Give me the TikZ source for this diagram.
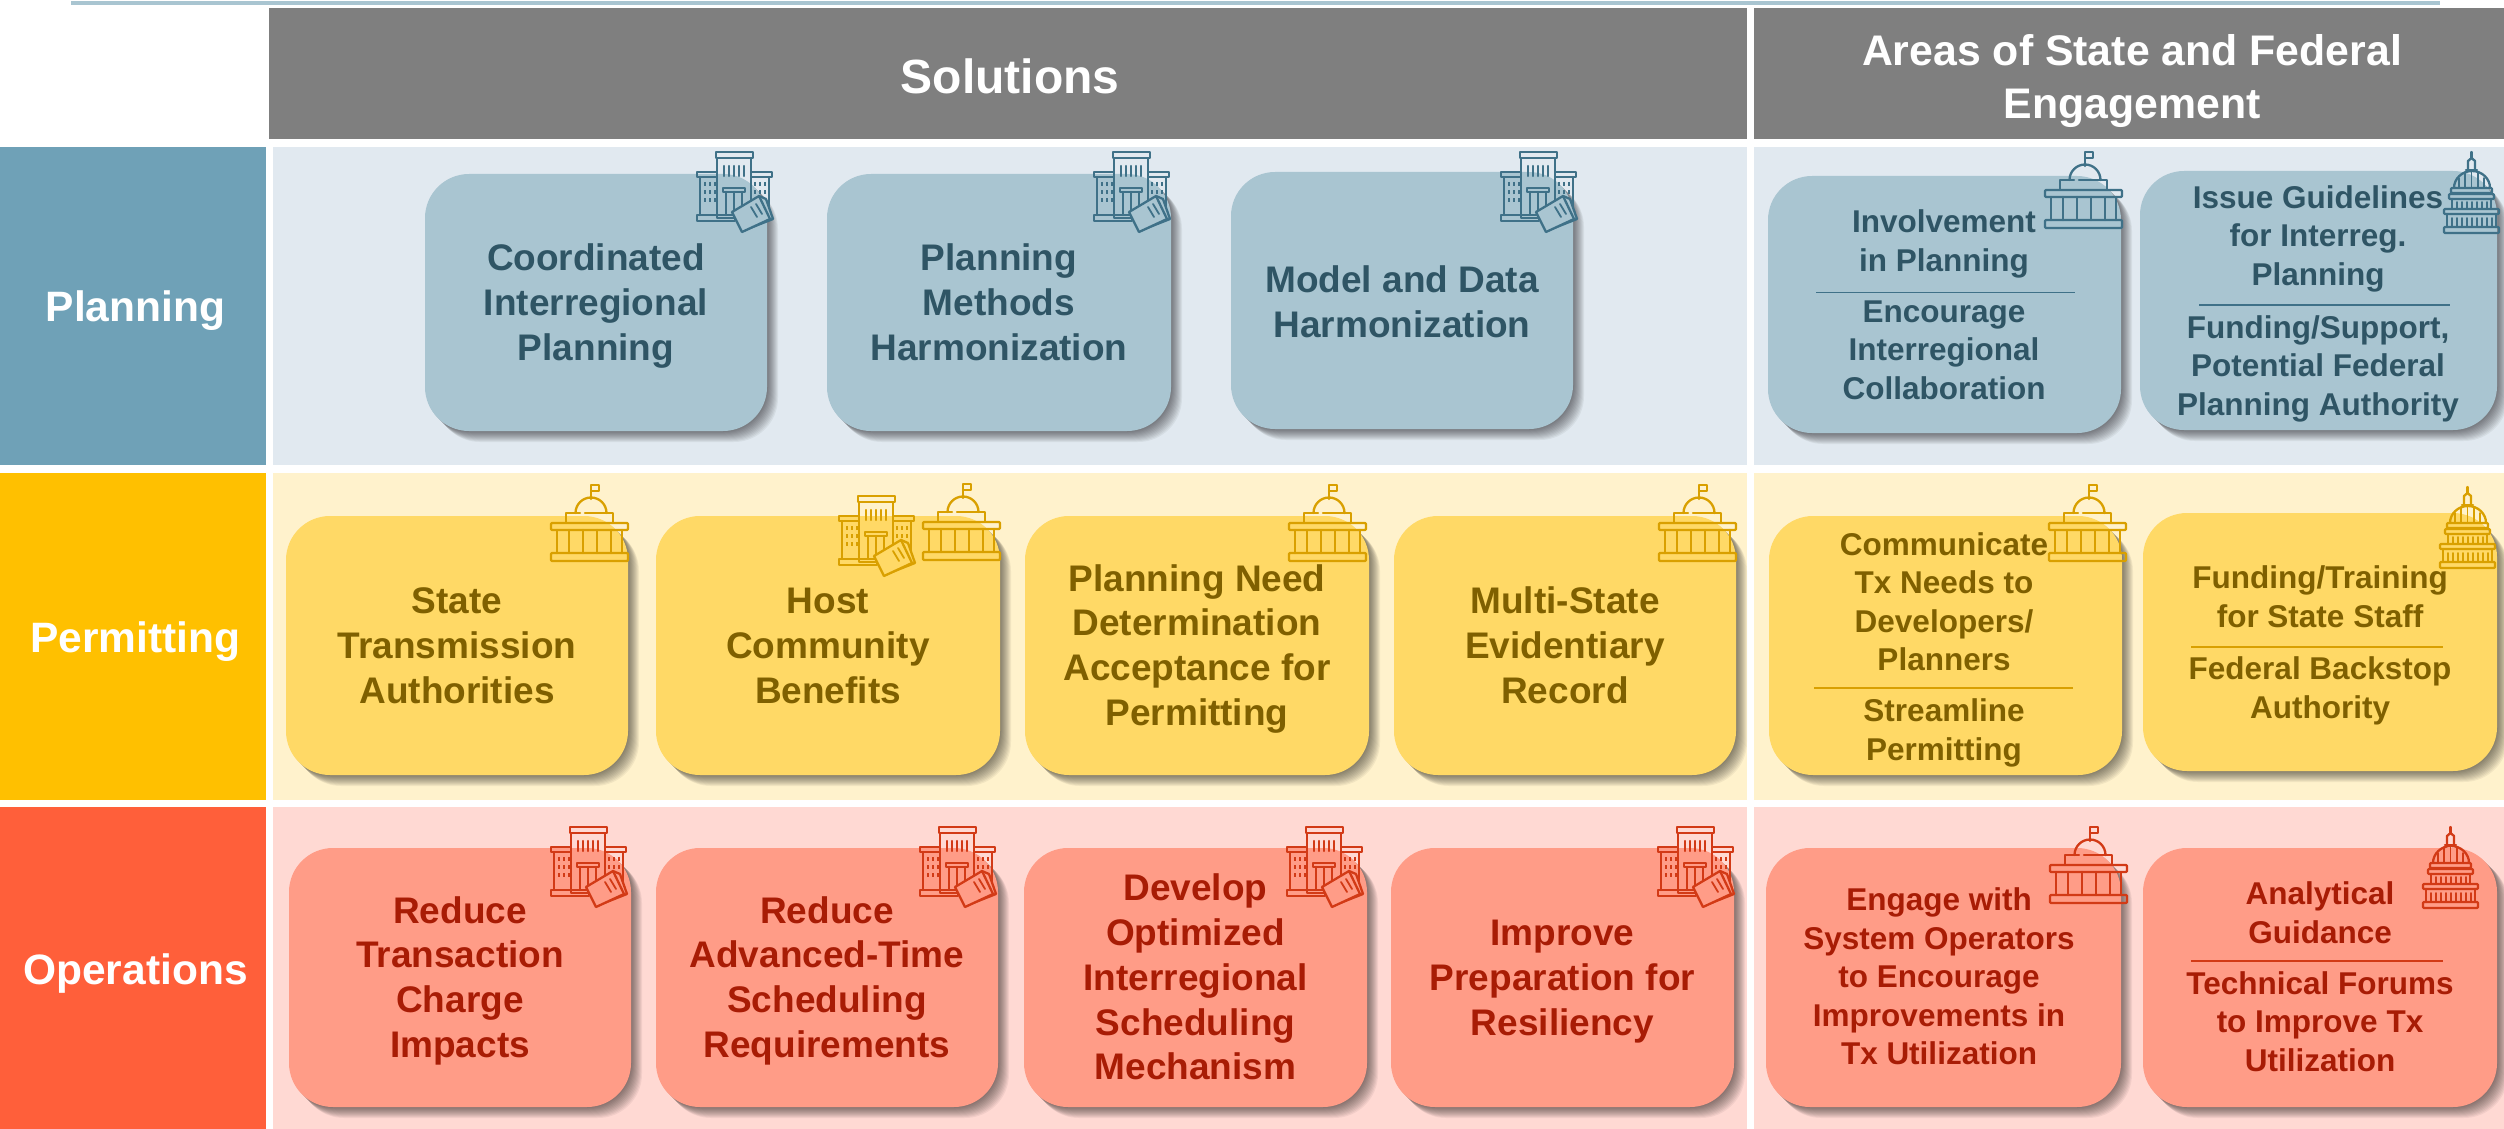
\documentclass[tikz,border=0pt]{standalone}
\usepackage{fontspec}
\setmainfont{Liberation Sans}
\usetikzlibrary{shadows}
\definecolor{planrow}{HTML}{6FA1B7}\definecolor{planband}{HTML}{E1E9F0}\definecolor{plancard}{HTML}{A9C5D1}\definecolor{plantext}{HTML}{2F5565}\definecolor{planicon}{HTML}{3F7188}
\definecolor{permrow}{HTML}{FFC000}\definecolor{permband}{HTML}{FFF2CC}\definecolor{permcard}{HTML}{FFD966}\definecolor{permtext}{HTML}{7F6000}\definecolor{permicon}{HTML}{D9A000}
\definecolor{oprow}{HTML}{FF5F3A}\definecolor{opband}{HTML}{FFD9D3}\definecolor{opcard}{HTML}{FF9C87}\definecolor{optext}{HTML}{A81C05}\definecolor{opicon}{HTML}{D23A16}
\definecolor{headgrey}{HTML}{7F7F7F}
\newcommand\mys{\rule[-.212em]{0pt}{1.117em}}
\tikzset{
  box/.style={rectangle,inner sep=0pt,outer sep=0pt,anchor=north west},
  header/.style={box,fill=headgrey},
  headtext/.style={text=white,align=center,inner sep=0pt,font=\fontsize{42.8}{53}\selectfont\bfseries},
  rowlabel/.style={box,text=white,align=center,font=\fontsize{42.5}{50}\selectfont\bfseries},
  sh/.style={general shadow={fill=black,opacity=.05,shadow xshift=#1pt,shadow yshift=-#1pt}},
  cardbox/.style={box,rounded corners=44pt,sh=11,sh=10,sh=9,sh=8,sh=7,sh=6,sh=5,sh=4,sh=3,sh=2,sh=1},
  cardtext/.style={align=center,inner sep=0pt,font=\fontsize{37}{44.7}\selectfont\bfseries},
  smalltext/.style={align=center,inner sep=0pt,font=\fontsize{31.5}{38.5}\selectfont\bfseries},
  ico/.style={line width=2.3pt,line join=round,line cap=round},
}
% #1 name #2 x1 #3 y1 #4 x2 #5 y2 #6 prefix #7 text
\newcommand\mycard[7]{%
  \pgfmathsetlengthmacro\cw{(#4-#2)*1pt}\pgfmathsetlengthmacro\ch{(#5-#3)*1pt}%
  \node[cardbox,fill=#6card,text=#6text,cardtext,minimum width=\cw,minimum height=\ch] (#1) at (#2,#3) {\mys #7\mys};}
\newcommand\mybldg[4]{%
  \begin{scope}[shift={(#1,#2)},ico,draw=#3]
    \draw (20,6) rectangle (54,66);
    \draw (19,0) rectangle (56,6);
    \draw (3,25) -- (3,63) (72,25) -- (72,63);
    \draw (0,20) rectangle (20,25) (54,20) rectangle (75,25);
    \draw (0,63) rectangle (38,69);
    \draw (26,36) rectangle (48,40);
    \draw (29,40) -- (29,63) (37,40) -- (37,63) (45,40) -- (45,58);
    \foreach \vx in {27,32,37,42,47} \draw (\vx,14) -- (\vx,24);
    \foreach \vx in {8,13,18} \foreach \vy in {30,38,46} \draw[line width=1.8pt,line cap=butt] (\vx,\vy) -- (\vx,\vy+4);
    \foreach \vx in {58,63,68} \foreach \vy in {30,38} \draw[line width=1.8pt,line cap=butt] (\vx,\vy) -- (\vx,\vy+4);
    \draw[fill=#4] (62,44) -- (69,47) -- (76,67) -- (48,78) -- cycle;
    \draw[fill=#4] (35,60) -- (62,44) -- (73,67) -- (45,80) -- cycle;
    \draw[line width=1.8pt] (54,55) -- (60,65) (59,52) -- (65,62);
  \end{scope}}
\newcommand\mydome[3]{%
  \begin{scope}[shift={(#1,#2)},ico,draw=#3]
    \draw (40,14) -- (40,0) -- (48,0) -- (48,6) -- (40,6);
    \draw (24.5,28) arc[start angle=180,end angle=360,radius=15.5];
    \draw (15,37) -- (15,28) -- (29,28) (34,28) -- (62,28) -- (62,37);
    \draw[rounded corners=1pt] (0,38) rectangle (77,45);
    \draw[rounded corners=1pt] (0,68) rectangle (77,76);
    \foreach \vx in {6,18,32,46,60,71} \draw (\vx,45) -- (\vx,68);
  \end{scope}}
\newcommand\mycapitol[3]{%
  \begin{scope}[shift={(#1,#2)},ico,draw=#3]
    \draw (27.5,0) -- (27.5,6);
    \draw (24,17) -- (24,9) -- (27.5,6) -- (31,9) -- (31,17);
    \draw (22,18) -- (33,18);
    \draw (10,36) arc[x radius=18,y radius=17,start angle=180,end angle=360];
    \foreach \vx/\vt in {15/26,21/21,27.5/20,34/21,40/26} \draw[line width=1.9pt] (\vx,\vt) -- (\vx,35);
    \draw[rounded corners=1pt] (7,36) rectangle (48,41);
    \draw[rounded corners=1pt] (5,42) rectangle (50,47);
    \draw (8,47) -- (8,57) (47,47) -- (47,57);
    \foreach \vx in {13,18,23,28,33,38,43} \draw[line width=1.7pt] (\vx,50) -- (\vx,56);
    \draw[rounded corners=1pt] (0,57) rectangle (55,62);
    \draw (3,62) -- (3,75) (52,62) -- (52,75);
    \foreach \vx in {8,13,18,23,28,33,38,43,48} \draw[line width=1.7pt] (\vx,66) -- (\vx,75);
    \draw[rounded corners=1pt] (0,75) rectangle (55,81);
  \end{scope}}
\begin{document}
\begin{tikzpicture}[x=1pt,y=-1pt]
\useasboundingbox (0,0) rectangle (2504,1129);
\fill[white] (0,0) rectangle (2504,1129);
\fill[plancard] (71,1) rectangle (2440,5);
% headers
\node[header,minimum width=1478pt,minimum height=131pt] (solutions) at (269,8) {};
\node[header,minimum width=750pt,minimum height=131pt] (areas) at (1754,8) {};
\node[headtext,font=\fontsize{48}{56}\selectfont\bfseries] (solutionstext) at (1010,77) {\mys Solutions\mys};
\node[headtext] (areastext) at (2132,77.5) {\mys Areas of State and Federal\\Engagement\mys};
% rows
\node[rowlabel,fill=planrow,minimum width=266pt,minimum height=318pt] (planning) at (0,147) {\mys\hspace*{5pt}\raisebox{-1.5pt}{Planning}\mys};
\node[rowlabel,fill=permrow,minimum width=266pt,minimum height=327pt] (permitting) at (0,473) {\mys\hspace*{5pt}\raisebox{-3pt}{Permitting}\mys};
\node[rowlabel,fill=oprow,minimum width=266pt,minimum height=322pt] (operations) at (0,807) {\mys\hspace*{5pt}\raisebox{-3pt}{Operations}\mys};
\node[box,fill=planband,minimum width=1474pt,minimum height=318pt] (b1) at (273,147) {};
\node[box,fill=planband,minimum width=750pt,minimum height=318pt] (b2) at (1754,147) {};
\node[box,fill=permband,minimum width=1474pt,minimum height=327pt] (b3) at (273,473) {};
\node[box,fill=permband,minimum width=750pt,minimum height=327pt] (b4) at (1754,473) {};
\node[box,fill=opband,minimum width=1474pt,minimum height=322pt] (b5) at (273,807) {};
\node[box,fill=opband,minimum width=750pt,minimum height=322pt] (b6) at (1754,807) {};
% planning cards
\mycard{p1}{425}{174}{767}{431}{plan}{Coordinated\\Interregional\\Planning}
\mycard{p2}{827}{174}{1171}{431}{plan}{Planning\\Methods\\Harmonization}
\mycard{p3}{1231}{172}{1573}{429}{plan}{\raisebox{-2pt}{Model and Data}\\\raisebox{-2pt}{Harmonization}}
\mycard{p4}{1768}{176}{2121}{433}{plan}{}
\mycard{p5}{2140}{171}{2497}{430}{plan}{}
% permitting cards
\mycard{q1}{286}{516}{628}{775}{perm}{State\\Transmission\\Authorities}
\mycard{q2}{656}{516}{1000}{775}{perm}{Host\\Community\\Benefits}
\mycard{q3}{1025}{516}{1369}{775}{perm}{Planning Need\\Determination\\Acceptance for\\Permitting}
\mycard{q4}{1394}{516}{1736}{775}{perm}{Multi-State\\Evidentiary\\Record}
\mycard{q5}{1769}{516}{2122}{775}{perm}{}
\mycard{q6}{2143}{513}{2497}{771}{perm}{}
% operations cards
\mycard{r1}{289}{848}{631}{1107}{op}{Reduce\\Transaction\\Charge\\Impacts}
\mycard{r2}{656}{848}{998}{1107}{op}{Reduce\\Advanced-Time\\Scheduling\\Requirements}
\mycard{r3}{1024}{848}{1367}{1107}{op}{Develop\\Optimized\\Interregional\\Scheduling\\Mechanism}
\mycard{r4}{1391}{848}{1734}{1107}{op}{Improve\\Preparation for\\Resiliency}
\mycard{r5}{1766}{848}{2121}{1107}{op}{}
\mycard{r6}{2143}{848}{2497}{1107}{op}{}
% split text
\node[smalltext,text=plantext] (p4a) at (1944,241) {\mys Involvement\\in Planning\mys};
\node[smalltext,text=plantext] (p4b) at (1944,350) {\mys Encourage\\Interregional\\Collaboration\mys};
\draw[planicon,line width=1.6pt] (1816,292.5) -- (2075,292.5);
\node[smalltext,text=plantext] (p5a) at (2318,236) {\mys Issue Guidelines\\for Interreg.\\Planning\mys};
\node[smalltext,text=plantext] (p5b) at (2318,366) {\mys Funding/Support,\\Potential Federal\\Planning Authority\mys};
\draw[planicon,line width=1.6pt] (2199,305) -- (2450,305);
\node[smalltext,text=permtext] (q5a) at (1944,602) {\mys Communicate\\Tx Needs to\\Developers/\\Planners\mys};
\node[smalltext,text=permtext] (q5b) at (1944,730) {\mys Streamline\\Permitting\mys};
\draw[permicon,line width=1.6pt] (1814,688) -- (2073,688);
\node[smalltext,text=permtext] (q6a) at (2320,597) {\mys Funding/Training\\for State Staff\mys};
\node[smalltext,text=permtext] (q6b) at (2320,688) {\mys Federal Backstop\\Authority\mys};
\draw[permicon,line width=1.6pt] (2191,647) -- (2443,647);
\node[smalltext,text=optext] (r5a) at (1939,977) {\mys Engage with\\System Operators\\to Encourage\\Improvements in\\Tx Utilization\mys};
\node[smalltext,text=optext] (r6a) at (2320,913) {\mys Analytical\\Guidance\mys};
\node[smalltext,text=optext] (r6b) at (2320,1022) {\mys Technical Forums\\to Improve Tx\\Utilization\mys};
\draw[opicon,line width=1.6pt] (2191,961) -- (2443,961);
% icons
\mybldg{697}{152}{planicon}{plancard}
\mybldg{1094}{152}{planicon}{plancard}
\mybldg{1501}{152}{planicon}{plancard}
\mydome{2045}{152}{planicon}
\mycapitol{2444}{152}{planicon}
\mydome{551}{485}{permicon}
\mybldg{839}{496}{permicon}{permcard}
\mydome{923}{484}{permicon}
\mydome{1289}{485}{permicon}
\mydome{1659}{485}{permicon}
\mydome{2049}{485}{permicon}
\mycapitol{2440}{487}{permicon}
\mybldg{551}{827}{opicon}{opcard}
\mybldg{920}{827}{opicon}{opcard}
\mybldg{1287}{827}{opicon}{opcard}
\mybldg{1658}{827}{opicon}{opcard}
\mydome{2050}{827}{opicon}
\mycapitol{2423}{827}{opicon}
\end{tikzpicture}
\end{document}
